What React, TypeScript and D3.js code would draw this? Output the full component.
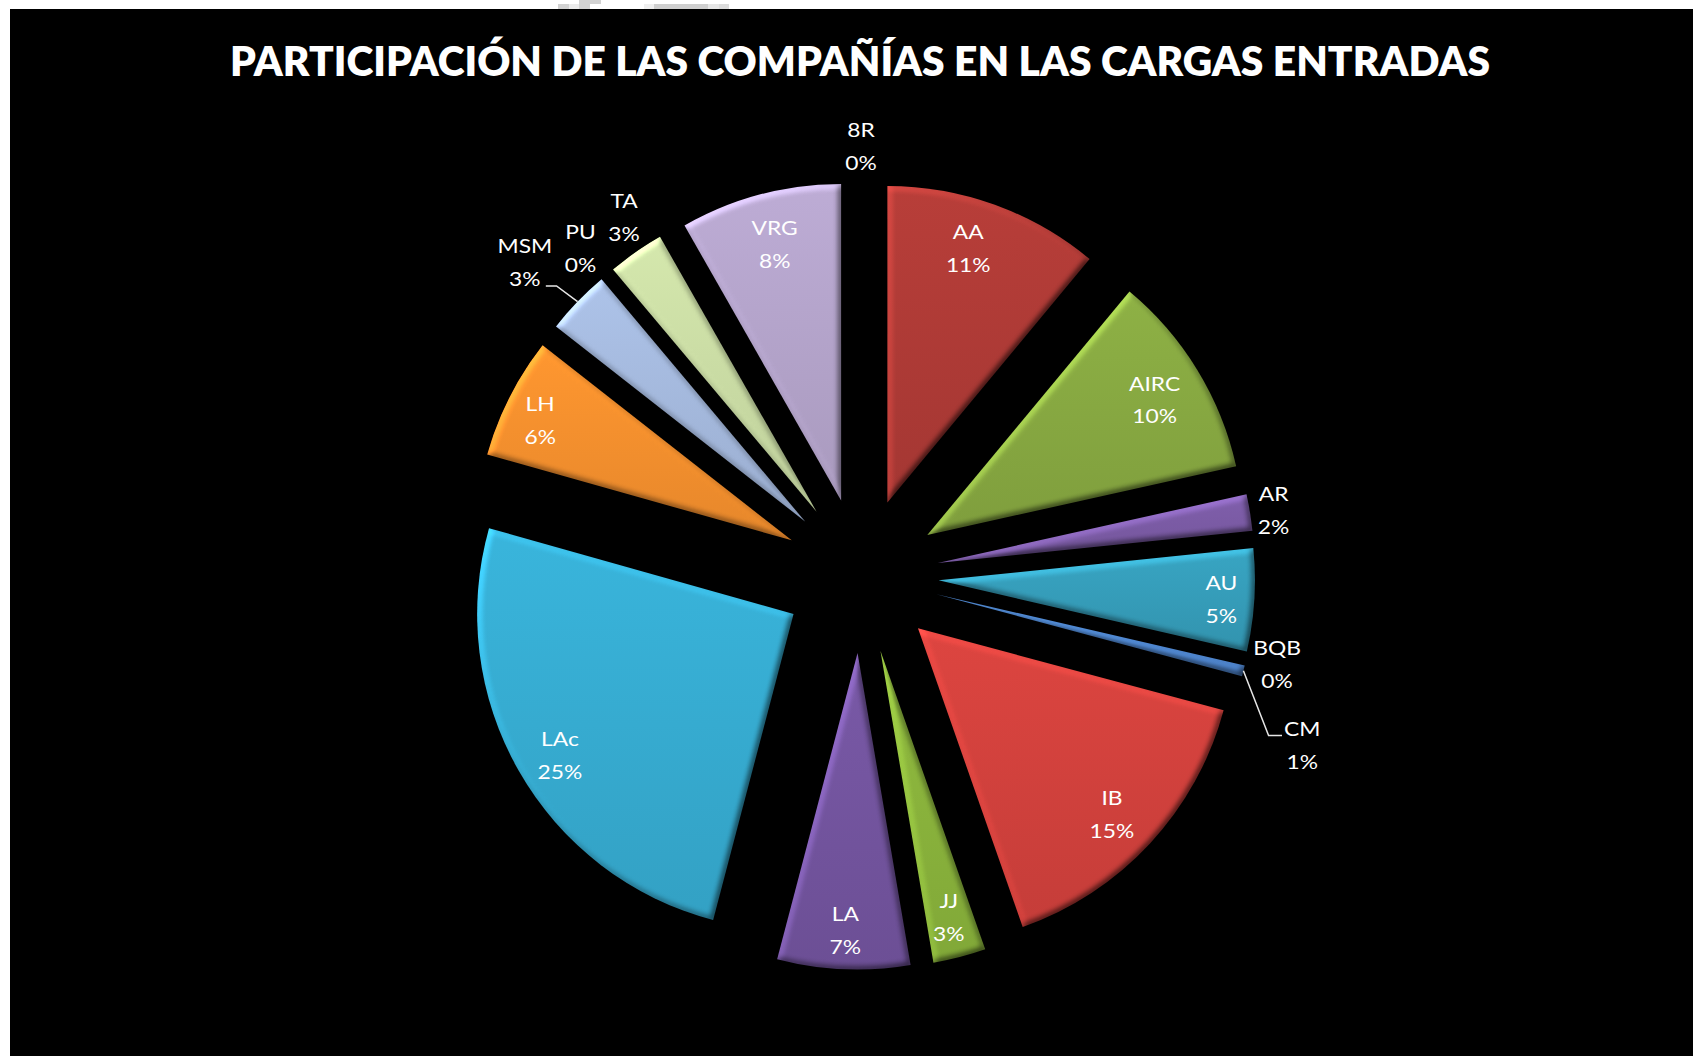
import React from "react";
import * as d3 from "d3";

// ---- data ----
const categories = ["8R", "AA", "AIRC", "AR", "AU", "BQB", "CM", "IB", "JJ", "LA", "LAc", "LH", "MSM", "PU", "TA", "VRG"];
const values = [0, 10.95, 10.4, 1.85, 5.2, 0, 0.55, 15.35, 2.67, 6.72, 25.1, 6.15, 3.28, 0, 2.86, 8.18];
const sliceColors = [
  "#4F81BD", "#B03B37", "#88AA42", "#7B5BA5", "#369EBB", "#F79646", "#4A7EC2", "#D4423D",
  "#8BB43C", "#7455A0", "#37ADD3", "#F7912E", "#A6BBDF", "#E3A7A5", "#CCDEA6", "#B5A5CC",
];
const title = "PARTICIPACIÓN DE LAS COMPAÑÍAS EN LAS CARGAS ENTRADAS";

// data-label placement (polar, around the pie centre): radius and angle offset from the slice bisector
type Placement = { r: number; da: number; leader?: { elbow: [number, number]; end: [number, number] } };
const labelPlacement: Record<string, Placement> = {
  "8R": { r: 431, da: 0 },
  AA: { r: 346, da: -1.8 },
  AIRC: { r: 343, da: 0.3 },
  AR: { r: 418, da: 0 },
  AU: { r: 361, da: 0 },
  BQB: { r: 425, da: -1.2 },
  CM: { r: 473, da: 7.1, leader: { elbow: [-33.7, -10.3], end: [-20.3, -10.3] } },
  IB: { r: 345, da: 0.5 },
  JJ: { r: 351, da: 0 },
  LA: { r: 354, da: 0 },
  LAc: { r: 350, da: -0.9 },
  LH: { r: 357, da: -0.9 },
  MSM: { r: 459, da: -1.1, leader: { elbow: [31.7, 23], end: [21, 23] } },
  PU: { r: 432, da: -0.45 },
  TA: { r: 431, da: 1.5 },
  VRG: { r: 344, da: 0.3 },
};

// ---- layout ----
const W = 1693;
const H = 1056;
const CX = 861;
const CY = 575.5;
const R = 316.4;
const EXPLODE = 77.7;
const LABEL_DY = 2;
const FONT = "Lato, 'Open Sans', sans-serif";

const u = (a: number) => [Math.sin(a), -Math.cos(a)];

export default function App() {
  const total = d3.sum(values);
  const arcs = d3.pie<number>().sort(null).value((d) => d).startAngle(0).endAngle(2 * Math.PI)(values);
  const arcGen = d3.arc<d3.PieArcDatum<number>>().innerRadius(0).outerRadius(R);

  return (
    <svg width={W} height={H} style={{ position: "absolute", left: 0, top: 0 }} xmlns="http://www.w3.org/2000/svg">
      <defs>
        <filter id="bevel" x="-10%" y="-10%" width="120%" height="120%" colorInterpolationFilters="sRGB">
          <feGaussianBlur in="SourceAlpha" stdDeviation="3" result="blur" />
          <feDiffuseLighting in="blur" surfaceScale="3" diffuseConstant="1" lightingColor="#ffffff" result="light">
            <feDistantLight azimuth="225" elevation="45" />
          </feDiffuseLighting>
          <feComposite in="SourceGraphic" in2="light" operator="arithmetic" k1="0.95" k2="0.33" k3="0" k4="0" />
        </filter>
        {sliceColors.map((c, i) => (
          <linearGradient key={i} id={`grad${i}`} x1="0" y1="0" x2="0" y2="1">
            <stop offset="0" stopColor={d3.color(c)!.brighter(0.12).formatHex()} />
            <stop offset="1" stopColor={d3.color(c)!.darker(0.2).formatHex()} />
          </linearGradient>
        ))}
      </defs>

      <rect x={0} y={0} width={W} height={H} fill="#ffffff" />
      {/* small grey remnants above the chart area */}
      <rect x={579} y={0} width={22} height={4} fill="#d2d2d2" />
      <rect x={558} y={4} width={11} height={5} fill="#d2d2d2" />
      <rect x={569} y={4} width={10} height={5} fill="#ebebeb" />
      <rect x={579} y={4} width={11} height={5} fill="#d2d2d2" />
      <rect x={644} y={4} width={10} height={5} fill="#efefef" />
      <rect x={654} y={4} width={54} height={5} fill="#cfcfcf" />
      <rect x={708} y={4} width={11} height={5} fill="#e6e6e6" />
      <rect x={719} y={4} width={10} height={5} fill="#dcdcdc" />
      <rect x={10} y={9} width={W - 10} height={H - 9} fill="#000000" />

      <text
        x={860}
        y={76}
        textAnchor="middle"
        fill="#ffffff"
        fontFamily={FONT}
        fontWeight={800}
        fontSize={41}
        textLength={1260}
        lengthAdjust="spacingAndGlyphs"
      >
        {title}
      </text>

      <g>
        {arcs.map((a, i) => {
          if (a.endAngle - a.startAngle <= 0) return null;
          const mid = (a.startAngle + a.endAngle) / 2;
          const [ux, uy] = u(mid);
          return (
            <path
              key={categories[i]}
              d={arcGen(a) || ""}
              transform={`translate(${CX + EXPLODE * ux},${CY + EXPLODE * uy})`}
              fill={`url(#grad${i})`}
              filter="url(#bevel)"
            />
          );
        })}
      </g>

      <g fontFamily={FONT} fontSize={19} fill="#ffffff">
        {arcs.map((a, i) => {
          const name = categories[i];
          const pct = `${Math.round((values[i] / total) * 100)}%`;
          const mid = (a.startAngle + a.endAngle) / 2;
          const p = labelPlacement[name];
          const ang = mid + (p.da * Math.PI) / 180;
          const [ox, oy] = u(ang);
          const x = CX + p.r * ox;
          const y = CY + p.r * oy + (p.leader ? 0 : LABEL_DY);
          let leader: React.ReactNode = null;
          if (p.leader) {
            const [tx, ty] = u(mid);
            const sx = CX + (EXPLODE + R) * tx;
            const sy = CY + (EXPLODE + R) * ty;
            const pts: [number, number][] = [
              [sx, sy],
              [x + p.leader.elbow[0], y + p.leader.elbow[1]],
              [x + p.leader.end[0], y + p.leader.end[1]],
            ];
            leader = <path d={d3.line()(pts) || ""} fill="none" stroke="#e6e6e6" strokeWidth={1.5} />;
          }
          return (
            <g key={name}>
              {leader}
              <g transform={`translate(${x},${y})`}>
                <text transform="scale(1.2,1)" textAnchor="middle">
                  <tspan x={0} y={-9.7}>{name}</tspan>
                  <tspan x={0} y={23.3}>{pct}</tspan>
                </text>
              </g>
            </g>
          );
        })}
      </g>
    </svg>
  );
}
